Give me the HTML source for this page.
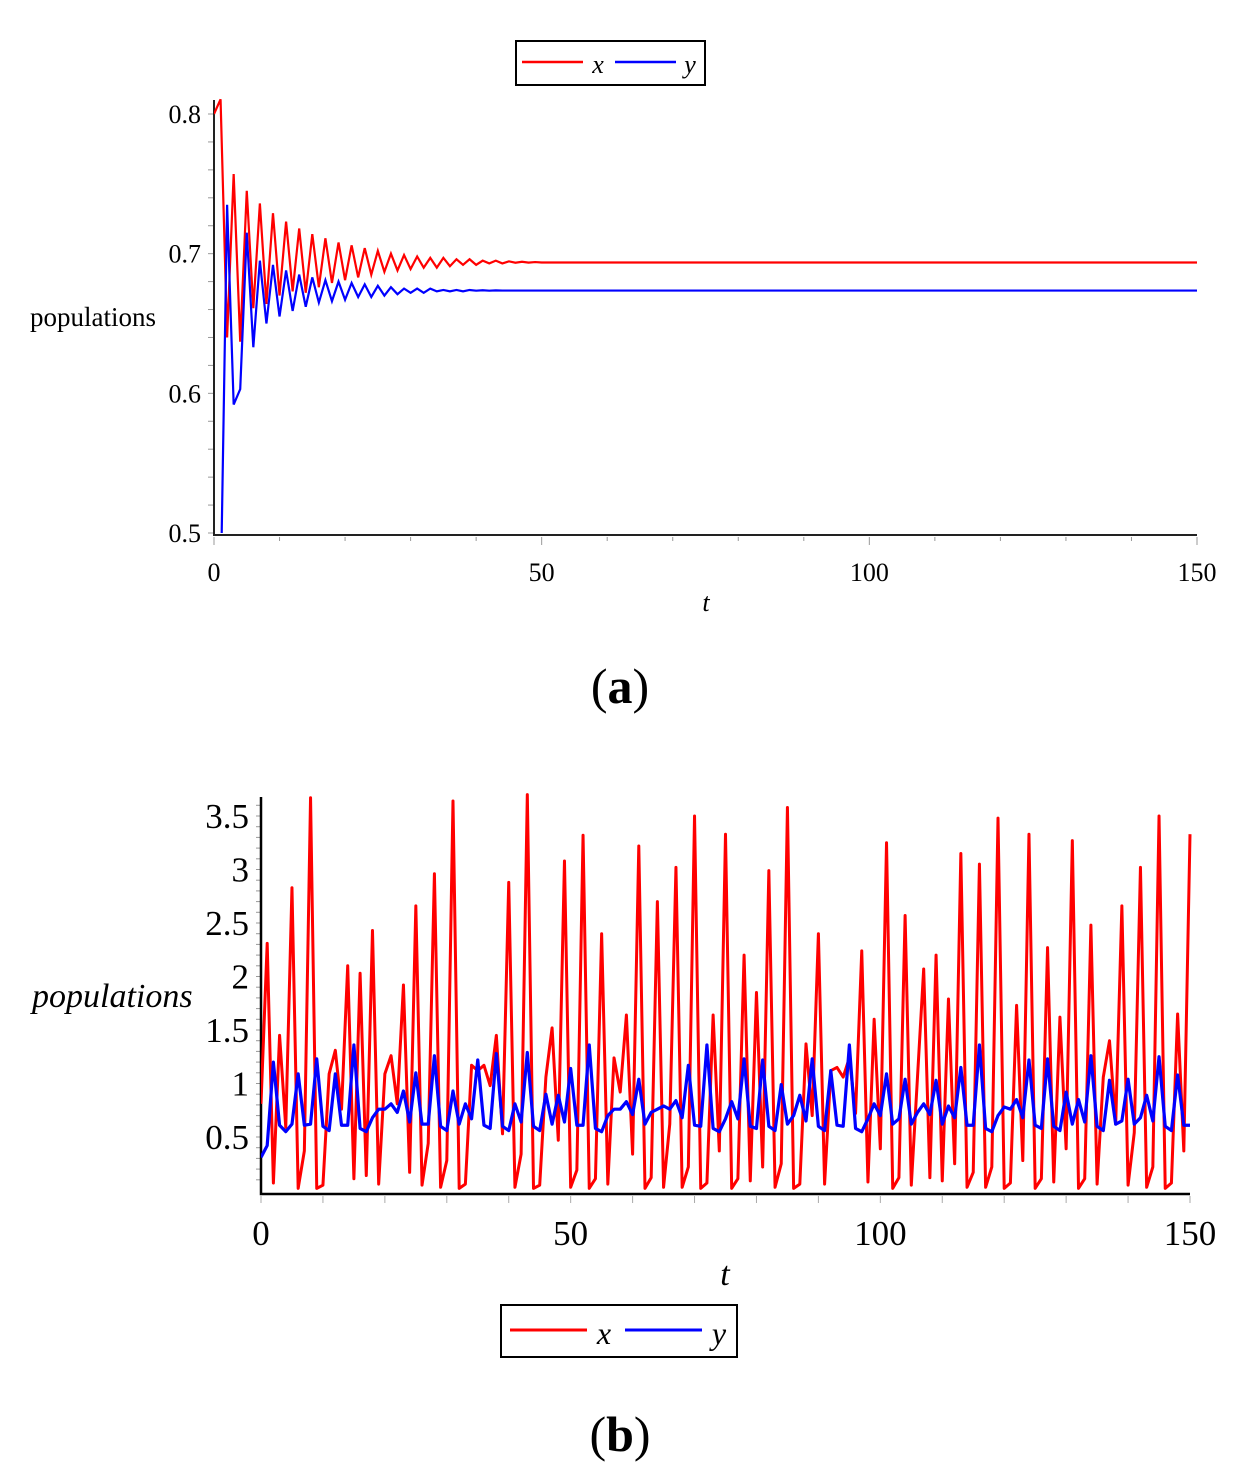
<!DOCTYPE html>
<html><head><meta charset="utf-8"><style>
body{margin:0;background:#fff;width:1252px;height:1479px;overflow:hidden}
svg{display:block}
.sf{font-family:"Liberation Serif",serif}
</style></head><body>
<svg width="1252" height="1479" viewBox="0 0 1252 1479" xmlns="http://www.w3.org/2000/svg">
<defs>
<clipPath id="clipA"><rect x="214" y="95" width="990" height="438"/></clipPath>
<clipPath id="clipB"><rect x="261" y="790" width="935" height="404"/></clipPath>
</defs>
<g id="chartA"></g>
<g id="chartB"></g>
<g>
<rect x="516" y="41" width="189" height="44" fill="#fff" stroke="#000" stroke-width="2"/>
<line x1="522" y1="62" x2="583" y2="62" stroke="#f00" stroke-width="2.5"/>
<text x="598" y="73" class="sf" font-size="26" font-style="italic" text-anchor="middle">x</text>
<line x1="615" y1="62" x2="676" y2="62" stroke="#00f" stroke-width="2.5"/>
<text x="690" y="73" class="sf" font-size="26" font-style="italic" text-anchor="middle">y</text>
</g>
<text x="30" y="326" class="sf" font-size="27">populations</text>
<text x="706" y="611" class="sf" font-size="26" font-style="italic" text-anchor="middle">t</text>
<text x="620" y="703" class="sf" font-size="50" text-anchor="middle">(<tspan font-weight="bold">a</tspan>)</text>
<g>
<rect x="501" y="1305" width="236" height="52" fill="#fff" stroke="#000" stroke-width="2"/>
<line x1="510" y1="1330" x2="587" y2="1330" stroke="#f00" stroke-width="3"/>
<text x="604" y="1344" class="sf" font-size="32" font-style="italic" text-anchor="middle">x</text>
<line x1="625" y1="1330" x2="702" y2="1330" stroke="#00f" stroke-width="3"/>
<text x="719" y="1344" class="sf" font-size="32" font-style="italic" text-anchor="middle">y</text>
</g>
<text x="32" y="1007" class="sf" font-size="34" font-style="italic">populations</text>
<text x="725" y="1285" class="sf" font-size="34" font-style="italic" text-anchor="middle">t</text>
<text x="620" y="1451" class="sf" font-size="50" text-anchor="middle">(<tspan font-weight="bold">b</tspan>)</text>
</svg>
<script>
const tA = [0,1,2,3,4,5,6,7,8,9,10,11,12,13,14,15,16,17,18,19,20,21,22,23,24,25,26,27,28,29,30,31,32,33,34,35,36,37,38,39,40,41,42,43,44,45,46,47,48,49,50,55,150];
const xA = [0.8,0.8105,0.640,0.757,0.637,0.745,0.661,0.736,0.664,0.729,0.670,0.723,0.673,0.718,0.672,0.714,0.676,0.711,0.679,0.708,0.681,0.706,0.683,0.704,0.685,0.702,0.687,0.700,0.688,0.699,0.689,0.698,0.690,0.697,0.690,0.697,0.691,0.696,0.692,0.696,0.692,0.695,0.693,0.695,0.693,0.6945,0.6935,0.6942,0.6936,0.6940,0.6937,0.6937,0.6937];
const yA = [0.40,0.45,0.735,0.592,0.603,0.715,0.633,0.695,0.650,0.692,0.655,0.688,0.659,0.685,0.662,0.683,0.665,0.681,0.666,0.680,0.667,0.679,0.669,0.678,0.669,0.677,0.670,0.676,0.671,0.675,0.672,0.675,0.672,0.675,0.673,0.674,0.673,0.674,0.673,0.674,0.6735,0.6738,0.6735,0.6737,0.6736,0.6736,0.6736,0.6736,0.6736,0.6736,0.6736,0.6736,0.6736];
const ticksXA = [0,50,100,150];
const ticksYA = [0.5,0.6,0.7,0.8];
const labelsYA = ["0.5","0.6","0.7","0.8"];
const xB = [0.81,2.31,0.07,1.45,0.59,2.83,0.02,0.37,3.67,0.02,0.05,1.09,1.31,0.76,2.1,0.11,2.03,0.14,2.43,0.06,1.09,1.26,0.81,1.92,0.17,2.66,0.05,0.44,2.96,0.03,0.28,3.64,0.02,0.06,1.17,1.12,1.17,0.98,1.45,0.53,2.88,0.03,0.34,3.70,0.02,0.05,1.06,1.52,0.47,3.08,0.03,0.19,3.32,0.02,0.11,2.4,0.06,1.24,0.92,1.64,0.34,3.22,0.02,0.12,2.7,0.03,0.62,3.02,0.03,0.22,3.5,0.02,0.07,1.64,0.37,3.33,0.02,0.11,2.2,0.09,1.85,0.22,2.99,0.03,0.25,3.58,0.02,0.06,1.37,0.7,2.4,0.06,1.12,1.15,1.06,1.24,0.72,2.24,0.08,1.6,0.39,3.25,0.02,0.12,2.57,0.05,1.06,2.07,0.12,2.2,0.09,1.79,0.25,3.15,0.03,0.17,3.05,0.03,0.22,3.48,0.02,0.07,1.73,0.28,3.33,0.02,0.11,2.27,0.08,1.62,0.39,3.27,0.02,0.11,2.48,0.06,1.06,1.4,0.62,2.66,0.05,0.54,3.02,0.03,0.22,3.5,0.02,0.07,1.65,0.37,3.33];
const yB = [0.31,0.42,1.2,0.61,0.55,0.62,1.09,0.61,0.62,1.23,0.6,0.56,1.09,0.61,0.61,1.36,0.58,0.55,0.68,0.76,0.76,0.81,0.73,0.93,0.64,1.1,0.62,0.62,1.26,0.6,0.56,0.93,0.62,0.81,0.67,1.22,0.61,0.58,1.28,0.6,0.56,0.81,0.64,1.29,0.6,0.56,0.9,0.62,0.89,0.64,1.14,0.61,0.61,1.36,0.58,0.55,0.7,0.76,0.76,0.83,0.71,1.04,0.62,0.73,0.76,0.79,0.76,0.84,0.68,1.17,0.61,0.6,1.36,0.58,0.55,0.67,0.83,0.67,1.23,0.6,0.58,1.22,0.6,0.56,0.99,0.62,0.7,0.89,0.65,1.23,0.6,0.56,1.12,0.61,0.6,1.36,0.58,0.55,0.67,0.81,0.7,1.09,0.62,0.67,1.04,0.62,0.73,0.81,0.71,1.03,0.62,0.79,0.68,1.15,0.61,0.61,1.36,0.58,0.55,0.7,0.78,0.76,0.85,0.68,1.22,0.61,0.58,1.23,0.6,0.56,0.92,0.62,0.85,0.64,1.26,0.6,0.56,1.03,0.62,0.65,1.04,0.62,0.68,0.89,0.65,1.25,0.6,0.56,1.08,0.61,0.61];
const ticksXB = [0,50,100,150];
const ticksYB = [0.5,1,1.5,2,2.5,3,3.5];
const labelsYB = ["0.5","1","1.5","2","2.5","3","3.5"];

const NS="http://www.w3.org/2000/svg";
function mk(tag,attrs,parent){const e=document.createElementNS(NS,tag);for(const k in attrs)e.setAttribute(k,attrs[k]);parent.appendChild(e);return e;}

const sxA=t=>214+t*(1197-214)/150;
const syA=v=>533-(v-0.5)*(533-114)/0.3;
const gA=document.getElementById('chartA');
for(let t=0;t<=150;t+=10){const ln=mk('line',{x1:sxA(t),x2:sxA(t),y1:537,y2:t%50===0?545:541,stroke:'#999','stroke-width':1},gA);

}
for(let v=0.5;v<=0.8001;v+=0.02){const ln=mk('line',{x1:208,x2:213,y1:syA(v),y2:syA(v),stroke:'#999','stroke-width':1},gA);

}
ticksXA.forEach(t=>{const tx=mk('text',{x:sxA(t),y:581,'text-anchor':'middle','font-size':26,class:'sf'},gA);tx.textContent=String(t);

});
ticksYA.forEach((v,i)=>{const tx=mk('text',{x:201,y:syA(v)+9,'text-anchor':'end','font-size':26,class:'sf'},gA);tx.textContent=labelsYA[i];

});
const axA=mk('path',{d:`M214,100 V535 H1197`,fill:'none',stroke:'#222','stroke-width':2},gA);


const redA=mk('polyline',{points:tA.map((t,i)=>sxA(t)+','+syA(xA[i])).join(' '),fill:'none',stroke:'#f00','stroke-width':2.2,'clip-path':'url(#clipA)'},gA);


const blueA=mk('polyline',{points:tA.map((t,i)=>sxA(t)+','+syA(yA[i])).join(' '),fill:'none',stroke:'#00f','stroke-width':2.2,'clip-path':'url(#clipA)'},gA);



const sxB=t=>261+t*(1190-261)/150;
const syB=v=>1190.5-v*107;
const gB=document.getElementById('chartB');
for(let t=0;t<=150;t+=10){const ln=mk('line',{x1:sxB(t),x2:sxB(t),y1:1196,y2:1203,stroke:'#aaa','stroke-width':1},gB);

}
for(let v=0.1;v<=3.65;v+=0.1){const ln=mk('line',{x1:256,x2:260,y1:syB(v),y2:syB(v),stroke:'#999','stroke-width':1},gB);

}
ticksXB.forEach(t=>{const tx=mk('text',{x:sxB(t),y:1245,'text-anchor':'middle','font-size':35,class:'sf'},gB);tx.textContent=String(t);

});
ticksYB.forEach((v,i)=>{const tx=mk('text',{x:249,y:syB(v)+12,'text-anchor':'end','font-size':35,class:'sf'},gB);tx.textContent=labelsYB[i];

});
const axB=mk('path',{d:`M261,797 V1194 H1190`,fill:'none',stroke:'#000','stroke-width':2.5},gB);


const redB=mk('polyline',{points:xB.map((v,i)=>sxB(i)+','+syB(v)).join(' '),fill:'none',stroke:'#f00','stroke-width':3,'stroke-linejoin':'round','clip-path':'url(#clipB)'},gB);


const blueB=mk('polyline',{points:yB.map((v,i)=>sxB(i)+','+syB(v)).join(' '),fill:'none',stroke:'#00f','stroke-width':3.2,'stroke-linejoin':'round','clip-path':'url(#clipB)'},gB);


</script>
</body></html>
